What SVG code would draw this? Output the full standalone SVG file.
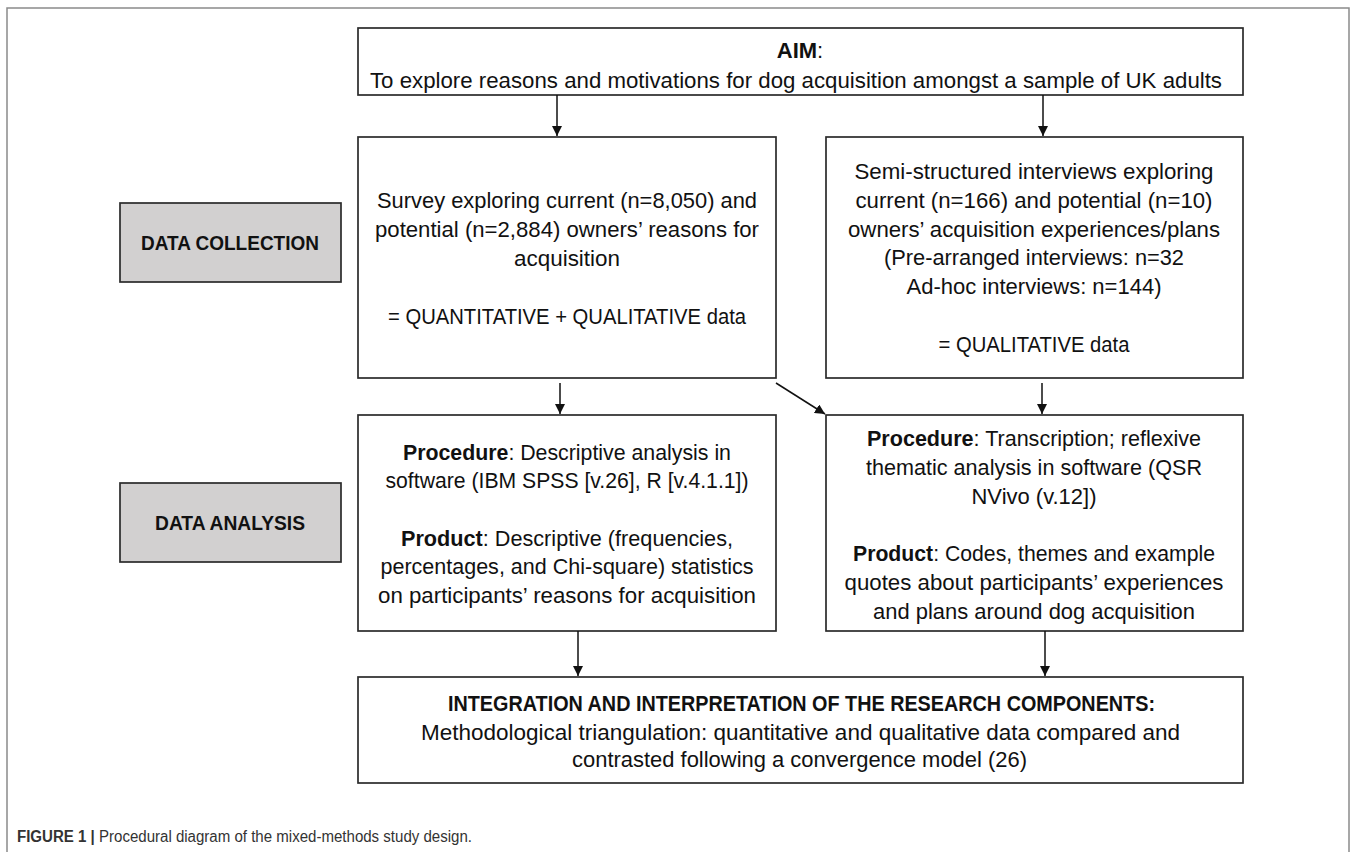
<svg xmlns="http://www.w3.org/2000/svg" width="1357" height="852" viewBox="0 0 1357 852">
<defs>
<marker id="ah" viewBox="0 0 10 10" refX="10" refY="5" markerWidth="10" markerHeight="10" markerUnits="userSpaceOnUse" orient="auto">
<path d="M0,0 L10,5 L0,10 z" fill="#111"/>
</marker>
<style>
.box{fill:#fff;stroke:#2b2b2b;stroke-width:1.7}
.gbox{fill:#d2d0d0;stroke:#2b2b2b;stroke-width:1.7}
.t{font-family:"Liberation Sans",Arial,sans-serif;font-size:22px;fill:#111;text-anchor:middle}
.b{font-weight:bold}
.lab{font-family:"Liberation Sans",Arial,sans-serif;font-size:21px;font-weight:bold;fill:#111;text-anchor:middle}
.conn{stroke:#111;stroke-width:1.5;fill:none;marker-end:url(#ah)}
.cap{font-family:"Liberation Sans",Arial,sans-serif;font-size:16px;fill:#333}
</style>
</defs>
<rect x="7" y="8" width="1342" height="860" fill="none" stroke="#8a8a8a" stroke-width="1.5"/>

<g id="aim">
<rect class="box" x="358" y="28" width="885" height="67"/>
<text class="t" x="800" y="58"><tspan class="b">AIM</tspan>:</text>
<text class="t" x="796" y="88" textLength="852" lengthAdjust="spacingAndGlyphs">To explore reasons and motivations for dog acquisition amongst a sample of UK adults</text>
</g>

<g id="data-collection">
<rect class="gbox" x="120" y="203" width="221" height="79"/>
<text class="lab" x="230" y="250" textLength="178" lengthAdjust="spacingAndGlyphs">DATA COLLECTION</text>
</g>

<g id="data-analysis">
<rect class="gbox" x="120" y="483" width="221" height="79"/>
<text class="lab" x="230" y="530" textLength="150" lengthAdjust="spacingAndGlyphs">DATA ANALYSIS</text>
</g>

<g id="survey">
<rect class="box" x="358" y="137" width="418" height="241"/>
<text class="t" x="567" y="208" textLength="380" lengthAdjust="spacingAndGlyphs">Survey exploring current (n=8,050) and</text>
<text class="t" x="567" y="237" textLength="384" lengthAdjust="spacingAndGlyphs">potential (n=2,884) owners’ reasons for</text>
<text class="t" x="567" y="266" textLength="106" lengthAdjust="spacingAndGlyphs">acquisition</text>
<text class="t" x="567" y="324" textLength="358" lengthAdjust="spacingAndGlyphs">= QUANTITATIVE + QUALITATIVE data</text>
</g>

<g id="interviews">
<rect class="box" x="826" y="137" width="417" height="241"/>
<text class="t" x="1034" y="179" textLength="359" lengthAdjust="spacingAndGlyphs">Semi-structured interviews exploring</text>
<text class="t" x="1034" y="208" textLength="357" lengthAdjust="spacingAndGlyphs">current (n=166) and potential (n=10)</text>
<text class="t" x="1034" y="237" textLength="372" lengthAdjust="spacingAndGlyphs">owners’ acquisition experiences/plans</text>
<text class="t" x="1034" y="265" textLength="300" lengthAdjust="spacingAndGlyphs">(Pre-arranged interviews: n=32</text>
<text class="t" x="1034" y="294" textLength="255" lengthAdjust="spacingAndGlyphs">Ad-hoc interviews: n=144)</text>
<text class="t" x="1034" y="352" textLength="191" lengthAdjust="spacingAndGlyphs">= QUALITATIVE data</text>
</g>

<g id="quant-analysis">
<rect class="box" x="358" y="415" width="418" height="216"/>
<text class="t" x="567" y="460" textLength="328" lengthAdjust="spacingAndGlyphs"><tspan class="b">Procedure</tspan>: Descriptive analysis in</text>
<text class="t" x="567" y="488" textLength="363" lengthAdjust="spacingAndGlyphs">software (IBM SPSS [v.26], R [v.4.1.1])</text>
<text class="t" x="567" y="546" textLength="332" lengthAdjust="spacingAndGlyphs"><tspan class="b">Product</tspan>: Descriptive (frequencies,</text>
<text class="t" x="567" y="574" textLength="373" lengthAdjust="spacingAndGlyphs">percentages, and Chi-square) statistics</text>
<text class="t" x="567" y="603" textLength="378" lengthAdjust="spacingAndGlyphs">on participants’ reasons for acquisition</text>
</g>

<g id="qual-analysis">
<rect class="box" x="826" y="415" width="417" height="216"/>
<text class="t" x="1034" y="446" textLength="334" lengthAdjust="spacingAndGlyphs"><tspan class="b">Procedure</tspan>: Transcription; reflexive</text>
<text class="t" x="1034" y="475" textLength="336" lengthAdjust="spacingAndGlyphs">thematic analysis in software (QSR</text>
<text class="t" x="1034" y="504" textLength="125" lengthAdjust="spacingAndGlyphs">NVivo (v.12])</text>
<text class="t" x="1034" y="561" textLength="362" lengthAdjust="spacingAndGlyphs"><tspan class="b">Product</tspan>: Codes, themes and example</text>
<text class="t" x="1034" y="590" textLength="379" lengthAdjust="spacingAndGlyphs">quotes about participants’ experiences</text>
<text class="t" x="1034" y="619" textLength="322" lengthAdjust="spacingAndGlyphs">and plans around dog acquisition</text>
</g>

<g id="integration">
<rect class="box" x="358" y="677" width="885" height="106"/>
<text class="t b" x="801.5" y="711" textLength="707" lengthAdjust="spacingAndGlyphs">INTEGRATION AND INTERPRETATION OF THE RESEARCH COMPONENTS:</text>
<text class="t" x="800.5" y="740" textLength="759" lengthAdjust="spacingAndGlyphs">Methodological triangulation: quantitative and qualitative data compared and</text>
<text class="t" x="799.5" y="767" textLength="455" lengthAdjust="spacingAndGlyphs">contrasted following a convergence model (26)</text>
</g>

<g id="connectors">
<line class="conn" x1="557" y1="95" x2="557" y2="136"/>
<line class="conn" x1="1043" y1="95" x2="1043" y2="136"/>
<line class="conn" x1="560" y1="383" x2="560" y2="414"/>
<line class="conn" x1="776" y1="383" x2="825" y2="414"/>
<line class="conn" x1="1042" y1="383" x2="1042" y2="414"/>
<line class="conn" x1="578" y1="631" x2="578" y2="676"/>
<line class="conn" x1="1045" y1="631" x2="1045" y2="676"/>
</g>

<text class="cap" x="17" y="842" textLength="455" lengthAdjust="spacingAndGlyphs"><tspan font-weight="bold">FIGURE 1 |</tspan> Procedural diagram of the mixed-methods study design.</text>
</svg>
